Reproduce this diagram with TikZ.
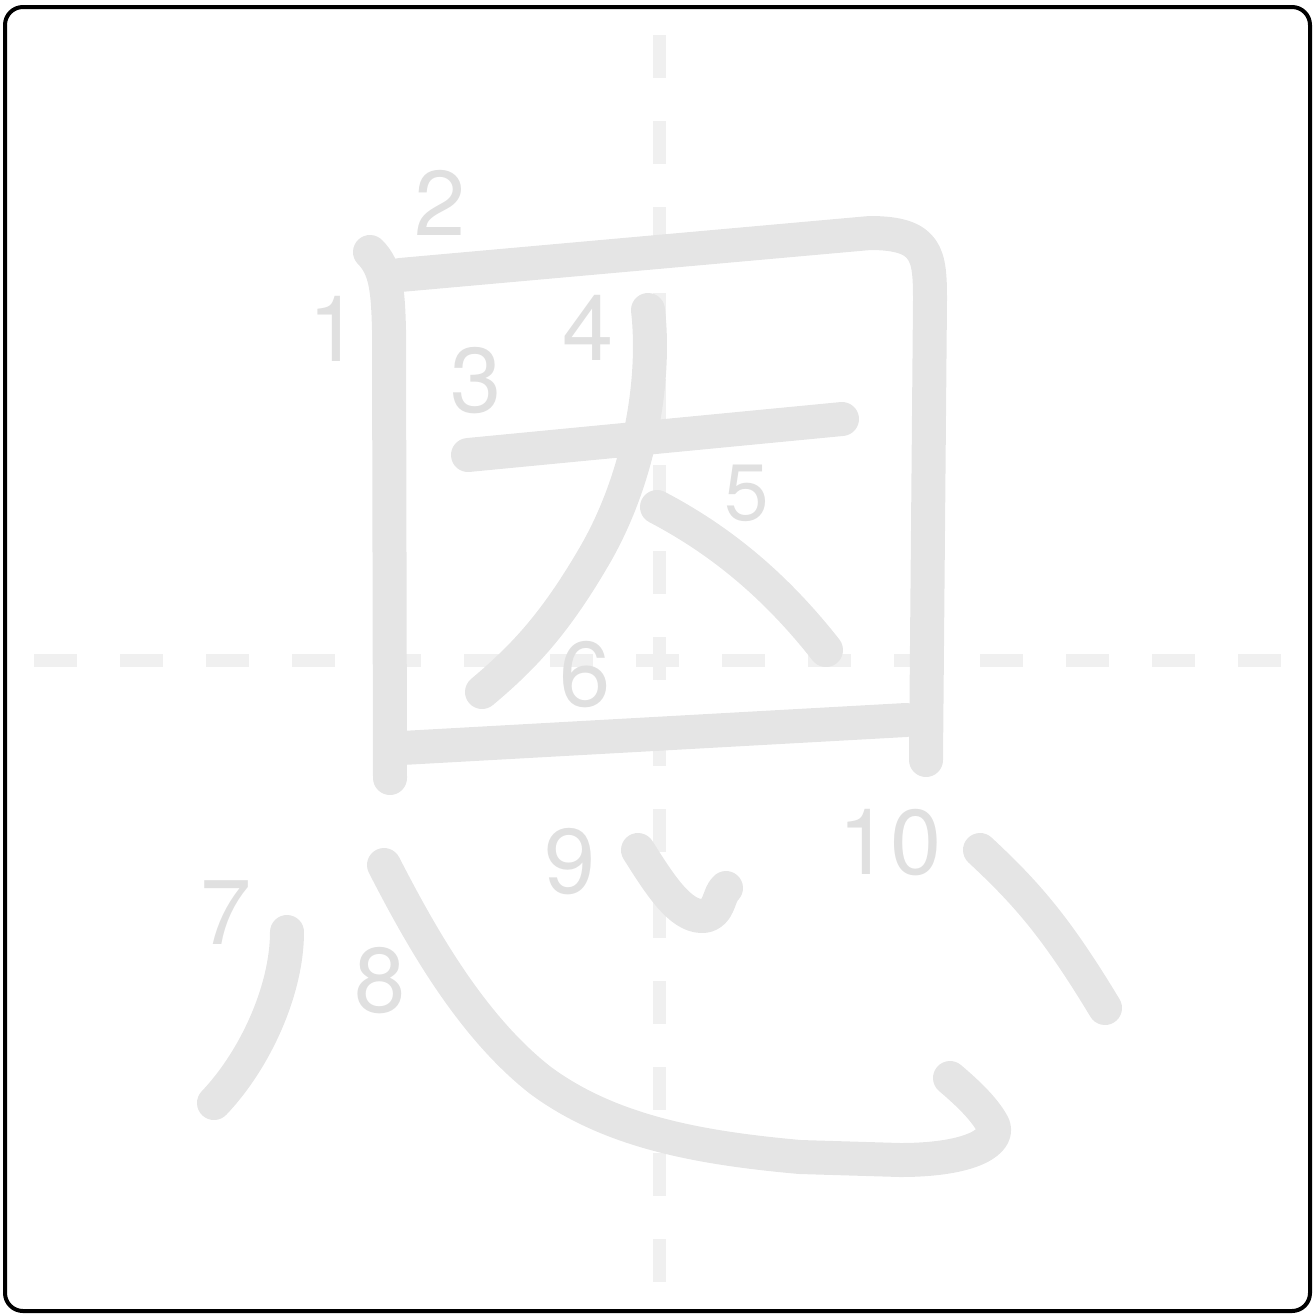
\documentclass[tikz,border=0pt]{standalone}
\usepackage{fontspec}
\setmainfont{TeX Gyre Heros}
\usepackage{tikz}
\usepackage{xcolor}
\definecolor{ink}{HTML}{000000}
\definecolor{strokegray}{HTML}{E5E5E5}
\definecolor{numgray}{HTML}{E0E0E0}
\definecolor{guidegray}{HTML}{F0F0F0}

\begin{document}
\begin{tikzpicture}[x=1pt,y=-1pt,
    guide/.style={guidegray,line width=13pt,dash pattern=on 43pt off 43pt},
    brush/.style={strokegray,line width=34pt,line cap=round,line join=round},
    num/.style={numgray,inner sep=0pt,font=\fontsize{92}{92}\selectfont}]
  \useasboundingbox (0,0) rectangle (1314,1315);
  % guide cross
  \draw[guide] (659,35) -- (659,1285);
  \draw[guide] (34,660) -- (1285,660);
  % strokes of the character
  \draw[brush] (370,252) .. controls (386,268) and (388,290) .. (389,330) -- (390,778);
  \draw[brush] (400,275) -- (870,233) .. controls (928,233) and (930,255) .. (930,300) -- (926,760);
  \draw[brush] (468,455) -- (842,419);
  \draw[brush] (648,310) .. controls (656,380) and (640,480) .. (592,560)
                        .. controls (552,628) and (520,660) .. (482,692);
  \draw[brush] (657,507) .. controls (720,540) and (775,585) .. (826,650);
  \draw[brush] (402,748) -- (906,720);
  \draw[brush] (287,932) .. controls (287,990) and (255,1060) .. (214,1103);
  \draw[brush] (384,865) .. controls (420,935) and (470,1025) .. (540,1080)
                        .. controls (610,1132) and (700,1148) .. (800,1157)
                        -- (900,1160) .. controls (975,1160) and (1000,1140) .. (993,1125)
                        .. controls (985,1110) and (970,1095) .. (950,1078);
  \draw[brush] (638,850) .. controls (660,885) and (680,916) .. (702,916)
                        .. controls (720,916) and (718,894) .. (726,888);
  \draw[brush] (980,850) .. controls (1025,892) and (1055,925) .. (1105,1008);
  % stroke numbers
  \node[num] (n1) at (334,329) {1};
  \node[num] (n2) at (440,203) {2};
  \node[num] (n3) at (476,381) {3};
  \node[num] (n4) at (588,328) {4};
  \node[num,font=\fontsize{80}{80}\selectfont] (n5) at (747,493) {5};
  \node[num] (n6) at (585,675) {6};
  \node[num] (n7) at (226,913) {7};
  \node[num] (n8) at (380,981) {8};
  \node[num] (n9) at (570,862) {9};
  \node[num] (n10) at (890,843) {10};
  % frame
  \draw[ink,line width=4pt,rounded corners=18pt] (5,7) rectangle (1310,1311);
\end{tikzpicture}
\end{document}
